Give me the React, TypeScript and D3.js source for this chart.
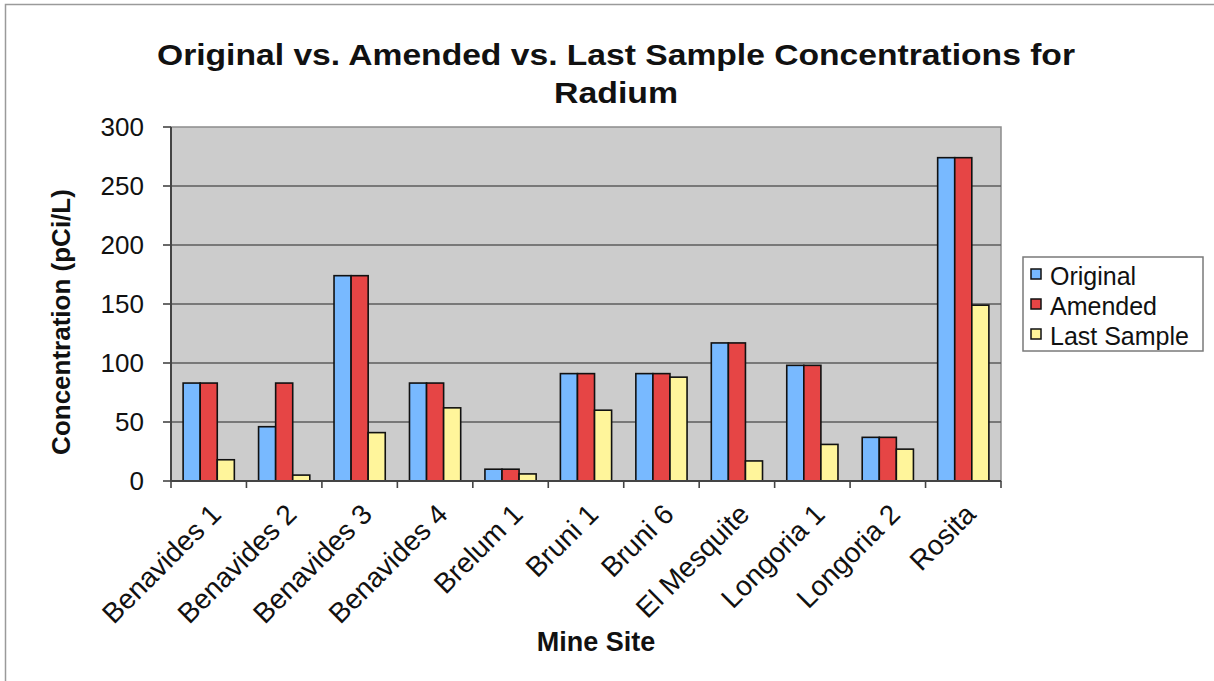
import React from "react";
import * as d3 from "d3";

const categories = [
  "Benavides 1", "Benavides 2", "Benavides 3", "Benavides 4", "Brelum 1",
  "Bruni 1", "Bruni 6", "El Mesquite", "Longoria 1", "Longoria 2", "Rosita",
];
const original = [83, 46, 174, 83, 10, 91, 91, 117, 98, 37, 274];
const amended = [83, 83, 174, 83, 10, 91, 91, 117, 98, 37, 274];
const lastSample = [18, 5, 41, 62, 6, 60, 88, 17, 31, 27, 149];
const seriesNames = ["Original", "Amended", "Last Sample"];
const seriesColors = ["#78b9ff", "#e64545", "#fff59b"];
const yTicks = [0, 50, 100, 150, 200, 250, 300];
const titleLines = ["Original vs. Amended vs. Last Sample Concentrations for", "Radium"];

const W = 1214, H = 681;
const plot = { left: 171, right: 1001, top: 127, bottom: 481 };
const FONT = "'Liberation Sans', Arial, Helvetica, sans-serif";

export default function App() {
  const x = d3.scaleBand<string>().domain(categories).range([plot.left, plot.right]).padding(0);
  const xs = d3.scaleBand<number>().domain([0, 1, 2]).range([0, x.bandwidth()]).paddingInner(0).paddingOuter(0.71);
  const y = d3.scaleLinear().domain([0, 300]).range([plot.bottom, plot.top]);
  const values = [original, amended, lastSample];

  return (
    <svg width={W} height={H} style={{ position: "absolute", left: 0, top: 0, background: "#fff" }} fontFamily={FONT}>
      <path d={`M5.5,${H} V4.5 H${W}`} fill="none" stroke="#9a9a9a" strokeWidth={1.5} />
      {/* Title */}
      <text x={616} y={65} textAnchor="middle" fontSize={30} fontWeight="bold" textLength={918} lengthAdjust="spacingAndGlyphs" fill="#111">{titleLines[0]}</text>
      <text x={616} y={103} textAnchor="middle" fontSize={30} fontWeight="bold" textLength={124} lengthAdjust="spacingAndGlyphs" fill="#111">{titleLines[1]}</text>

      {/* plot background */}
      <rect x={plot.left} y={plot.top} width={plot.right - plot.left} height={plot.bottom - plot.top} fill="#cccccc" stroke="#8c8c8c" strokeWidth={1.5} />
      {yTicks.filter(t => t > 0 && t < 300).map(t => (
        <line key={"g" + t} x1={plot.left} x2={plot.right} y1={y(t)} y2={y(t)} stroke="#5c5c5c" strokeWidth={1.6} />
      ))}

      {/* bars */}
      {categories.map((c, i) => (
        <g key={c}>
          {values.map((vals, s) => (
            <rect key={s} x={(x(c) as number) + (xs(s) as number)} y={y(vals[i])} width={xs.bandwidth()} height={y(0) - y(vals[i])}
              fill={seriesColors[s]} stroke="#111" strokeWidth={1.6} />
          ))}
        </g>
      ))}

      {/* axes */}
      <line x1={plot.left} x2={plot.left} y1={plot.top} y2={plot.bottom} stroke="#444" strokeWidth={2} />
      <line x1={plot.left} x2={plot.right} y1={plot.bottom} y2={plot.bottom} stroke="#444" strokeWidth={2} />
      {yTicks.map(t => (
        <g key={"yt" + t}>
          <line x1={plot.left - 8} x2={plot.left} y1={y(t)} y2={y(t)} stroke="#444" strokeWidth={1.6} />
          <text x={144} y={y(t) + 9} textAnchor="end" fontSize={26} fill="#111">{t}</text>
        </g>
      ))}
      {d3.range(categories.length + 1).map(k => {
        const xx = plot.left + k * x.step();
        return <line key={"xt" + k} x1={xx} x2={xx} y1={plot.bottom} y2={plot.bottom + 7} stroke="#444" strokeWidth={1.6} />;
      })}
      {categories.map(c => {
        const cx = (x(c) as number) + x.bandwidth() / 2;
        return (
          <text key={"xl" + c} transform={`translate(${cx},${502}) rotate(-45)`} textAnchor="end" dy="0.71em" fontSize={28} fill="#111">{c}</text>
        );
      })}

      {/* axis titles */}
      <text transform={`translate(70,322) rotate(-90)`} textAnchor="middle" fontSize={26} fontWeight="bold" fill="#111">Concentration (pCi/L)</text>
      <text x={596} y={651} textAnchor="middle" fontSize={27} fontWeight="bold" fill="#111">Mine Site</text>

      {/* legend */}
      <rect x={1023} y={257} width={180} height={94} fill="#fff" stroke="#7a7a7a" strokeWidth={1.5} />
      {seriesNames.map((n, s) => (
        <g key={n}>
          <rect x={1031} y={269 + s * 30} width={10} height={10} fill={seriesColors[s]} stroke="#111" strokeWidth={1.5} />
          <text x={1050} y={285 + s * 30} fontSize={25} fill="#111">{n}</text>
        </g>
      ))}
    </svg>
  );
}
